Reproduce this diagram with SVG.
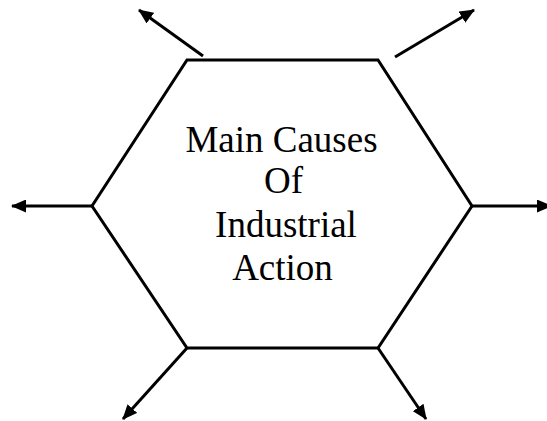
<svg xmlns="http://www.w3.org/2000/svg" width="547" height="421" viewBox="0 0 547 421">
<style>
.shape{fill:none;stroke:#000;stroke-width:3}
.conn{stroke:#000;stroke-width:3;fill:none}
.lbl{font-family:"Liberation Serif","Times New Roman",serif;font-size:37px;fill:#000;text-anchor:middle}
</style>
<defs>
<marker id="ah" viewBox="0 0 15 13" refX="14" refY="6.5" markerWidth="15" markerHeight="13" markerUnits="userSpaceOnUse" orient="auto">
<path d="M0,0 L15,6.5 L0,13 z" fill="#000"/>
</marker>
</defs>
<rect width="547" height="421" fill="#fff"/>
<g id="hexagon">
<polygon class="shape" points="187,60 378,60 472,206 378,348 187,348 92,206"/>
<text class="lbl" x="281.5" y="152">Main Causes</text>
<text class="lbl" x="283.5" y="193">Of</text>
<text class="lbl" x="286" y="237">Industrial</text>
<text class="lbl" x="282.5" y="280">Action</text>
</g>
<g id="connectors">
<line class="conn" x1="203" y1="56" x2="139" y2="10" marker-end="url(#ah)"/>
<line class="conn" x1="395" y1="57" x2="474" y2="10" marker-end="url(#ah)"/>
<line class="conn" x1="92" y1="206" x2="12" y2="206" marker-end="url(#ah)"/>
<line class="conn" x1="472" y1="206" x2="551" y2="206" marker-end="url(#ah)"/>
<line class="conn" x1="187" y1="348" x2="123" y2="419" marker-end="url(#ah)"/>
<line class="conn" x1="378" y1="348" x2="426" y2="419" marker-end="url(#ah)"/>
</g>
</svg>
